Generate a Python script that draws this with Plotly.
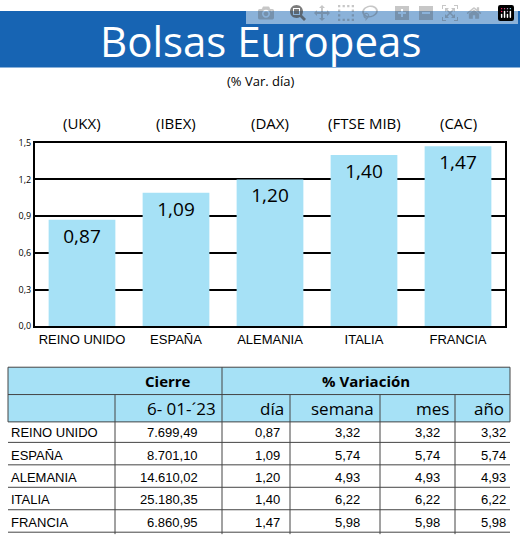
import plotly.graph_objects as go

W, H = 520, 546

paises = ["REINO UNIDO", "ESPAÑA", "ALEMANIA", "ITALIA", "FRANCIA"]
indices = ["(UKX)", "(IBEX)", "(DAX)", "(FTSE MIB)", "(CAC)"]
var_dia = [0.87, 1.09, 1.20, 1.40, 1.47]
cierre = ["7.699,49", "8.701,10", "14.610,02", "25.180,35", "6.860,95"]
var_semana = ["3,32", "5,74", "4,93", "6,22", "5,98"]
var_mes = ["3,32", "5,74", "4,93", "6,22", "5,98"]
var_anio = ["3,32", "5,74", "4,93", "6,22", "5,98"]
y_ticks = [0.0, 0.3, 0.6, 0.9, 1.2, 1.5]


def fx(x):
    return x / W


def fy(y):
    return 1 - y / H


def coma(v, d=2):
    return f"{v:.{d}f}".replace(".", ",")


def txt(text, x, y, size, xanchor="center", bold=False, family="Open Sans", xref="paper"):
    return dict(text=f"<b>{text}</b>" if bold else text, x=x, y=fy(y), xref=xref,
                yref="paper", xanchor=xanchor, yanchor="middle", showarrow=False,
                font=dict(size=size, color="black", family=family))


narrow = "Liberation Sans Narrow, Arial Narrow, sans-serif"

fig = go.Figure()
fig.add_trace(go.Bar(
    x=paises, y=var_dia, text=[coma(v) for v in var_dia],
    textposition="inside", insidetextanchor="end",
    textfont=dict(size=19, color="black", family="Open Sans"),
    marker=dict(color="#a6e1f6", line=dict(width=0)), width=0.71,
    showlegend=False, hoverinfo="skip",
))

line = dict(color="#444", width=1)
shapes = [dict(type="rect", xref="paper", yref="paper", x0=0, x1=1,
               y0=fy(62), y1=fy(4), fillcolor="#1764b3", line_width=0, layer="below")]
title = txt("Bolsas Europeas", 0.5, 34, 42)
title["font"]["color"] = "white"
ann = [title, txt("(% Var. día)", 0.5, 76, 13)]
for p, code in zip(paises, indices):
    ann.append(txt(code, p, 119, 15, xref="x"))

# tabla
cols = [8, 115, 222, 290, 380, 455, 510]
shapes.append(dict(type="rect", xref="paper", yref="paper", x0=fx(8), x1=fx(510),
                   y0=fy(425), y1=fy(369), fillcolor="#a6e1f6", line=line, layer="below"))
shapes.append(dict(type="line", xref="paper", yref="paper", x0=fx(8), x1=fx(510),
                   y0=fy(397), y1=fy(397), line=line))
shapes.append(dict(type="line", xref="paper", yref="paper", x0=fx(222), x1=fx(222),
                   y0=fy(540), y1=fy(369), line=line))
for c in [115, 290, 380, 455]:
    shapes.append(dict(type="line", xref="paper", yref="paper", x0=fx(c), x1=fx(c),
                       y0=fy(540), y1=fy(397), line=line))
ann.append(txt("Cierre", fx(168), 383, 15, bold=True))
ann.append(txt("% Variación", fx(366), 383, 15, bold=True))
for t, c1 in zip(["6- 01-´23", "día", "semana", "mes", "año"], cols[2:]):
    ann.append(txt(t, fx(c1 - 4), 411, 17, xanchor="right"))
rights = [200, 282, 362, 442, 508]
for i, row in enumerate(zip(paises, cierre, [coma(v) for v in var_dia],
                            var_semana, var_mes, var_anio)):
    y = 436 + i * 23
    shapes.append(dict(type="line", xref="paper", yref="paper", x0=fx(8), x1=fx(510),
                       y0=fy(y + 10), y1=fy(y + 10), line=line))
    ann.append(txt(row[0], fx(9), y, 13, xanchor="left", family=narrow))
    for v, r in zip(row[1:], rights):
        ann.append(txt(v, fx(r), y, 13, xanchor="right", family=narrow))

fig.update_layout(
    width=W, height=H, margin=dict(l=0, r=0, t=0, b=0),
    paper_bgcolor="white", plot_bgcolor="white",
    shapes=shapes, annotations=ann,
    xaxis=dict(domain=[fx(35), fx(505)], showline=True, linecolor="black", linewidth=2,
               mirror=True, ticks="", tickfont=dict(size=13, color="black", family=narrow)),
    yaxis=dict(domain=[fy(327), fy(139)], range=[0, 1.5], tickvals=y_ticks,
               ticktext=[coma(v, 1) for v in y_ticks],
               showgrid=True, gridcolor="black", gridwidth=2, showline=True,
               linecolor="black", linewidth=2, mirror=True, zeroline=False,
               tickfont=dict(size=9, color="black"), ticklen=0),
)

fig.write_html("out.html", post_script="document.body.style.margin='0';")
